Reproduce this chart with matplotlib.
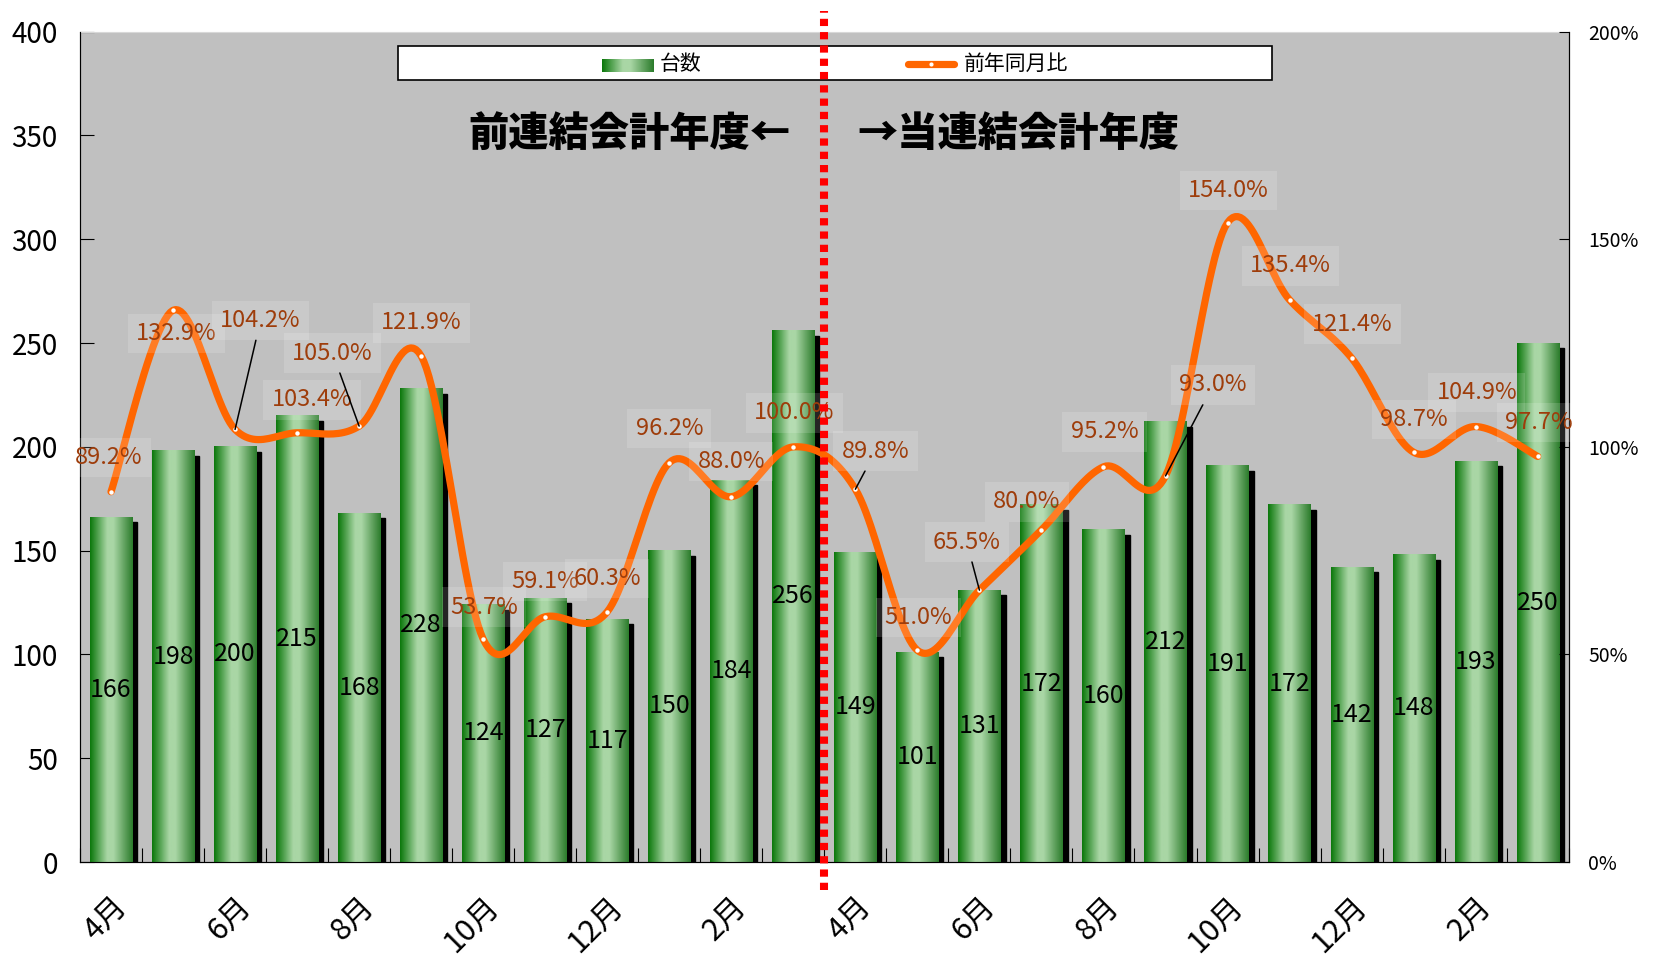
import numpy as np
import matplotlib.pyplot as plt
from matplotlib.colors import LinearSegmentedColormap
from matplotlib.patches import Rectangle
from matplotlib.lines import Line2D
from matplotlib.transforms import offset_copy
from matplotlib.ticker import FuncFormatter

plt.rcParams['font.family'] = ['Noto Sans CJK JP', 'DejaVu Sans']

# data
months = ['4月', '5月', '6月', '7月', '8月', '9月', '10月', '11月', '12月', '1月', '2月', '3月'] * 2
units = [166, 198, 200, 215, 168, 228, 124, 127, 117, 150, 184, 256,
         149, 101, 131, 172, 160, 212, 191, 172, 142, 148, 193, 250]
ratio = [89.2, 132.9, 104.2, 103.4, 105.0, 121.9, 53.7, 59.1, 60.3, 96.2, 88.0, 100.0,
         89.8, 51.0, 65.5, 80.0, 95.2, 93.0, 154.0, 135.4, 121.4, 98.7, 104.9, 97.7]
series_names = ['台数', '前年同月比']
period_labels = ['前連結会計年度←', '→当連結会計年度']

# label offsets in pixels (dx, dy) and which get a leader line
lbl_off = [(-2, 34), (3, -23), (24, 109), (14, 33), (-25, 73), (0, 33), (1, 32), (0, 35),
           (0, 33), (0, 34), (0, 35), (1, 34), (19, 38), (1, 33), (-12, 48), (-14, 28),
           (1, 35), (45, 91), (1, 32), (1, 34), (1, 34), (0, 33), (1, 34), (1, 34)]
leaders = {2, 4, 12, 14, 17}


def smooth(xs, ys, n=25):
    P = np.column_stack([xs, ys]).astype(float)
    P = np.vstack([P[0], P, P[-1]])
    out = []
    t = np.linspace(0, 1, n)[:, None]
    for i in range(1, len(P) - 2):
        p0, p1, p2, p3 = P[i - 1], P[i], P[i + 1], P[i + 2]
        c1 = p1 + (p2 - p0) / 6
        c2 = p2 - (p3 - p1) / 6
        out.append((1 - t) ** 3 * p1 + 3 * (1 - t) ** 2 * t * c1 + 3 * (1 - t) * t ** 2 * c2 + t ** 3 * p2)
    return np.vstack(out)


green = LinearSegmentedColormap.from_list(
    'bar', [(0, '#0c780c'), (0.4, '#a9d6a5'), (0.55, '#a9d6a5'), (1, '#2c7c2c')])
grad = np.linspace(0, 1, 64)[None, :]

fig = plt.figure(figsize=(16.53, 9.6), dpi=100)
ax = fig.add_axes([0.0484, 0.102, 0.9006, 0.865])
ax.set_facecolor('#c0c0c0')
ax2 = ax.twinx()

x = np.arange(len(units))
w = 0.68
shadow = offset_copy(ax.transData, fig=fig, x=5, y=-5, units='dots')
for i, v in enumerate(units):
    ax.add_patch(Rectangle((i - w / 2, 0), w, v, color='black', transform=shadow, zorder=2))
    ax.imshow(grad, cmap=green, extent=[i - w / 2, i + w / 2, 0, v], aspect='auto', zorder=3)
    ax.text(i, v / 2, str(v), ha='center', va='center', fontsize=18, color='black', zorder=4)

ax.set_xlim(-0.5, len(units) - 0.5)
ax.set_ylim(0, 400)
ax.set_yticks(np.arange(0, 401, 50))
ax.tick_params(axis='y', direction='in', length=10, labelsize=20, pad=16)
ax.set_xticks(np.arange(-0.5, len(units), 1))
ax.set_xticklabels([])
ax.set_xticks(x[::2], [months[i] for i in x[::2]], minor=True)
ax.tick_params(axis='x', which='major', direction='in', length=10)
ax.tick_params(axis='x', which='minor', length=0, labelsize=22, pad=21)
for lab in ax.get_xticklabels(minor=True):
    lab.set_rotation(45)
    lab.set_ha('right')
    lab.set_va('top')
    lab.set_rotation_mode('anchor')
ax.spines['top'].set_color('#d8d8d8')
ax.spines['left'].set_color('#404040')
ax.spines['bottom'].set_color('#404040')

# ratio line
curve = smooth(x, ratio)
ax2.plot(curve[:, 0], curve[:, 1], color='#ff6600', lw=5.2, solid_capstyle='round', zorder=3)
ax2.plot(x, ratio, 'o', color='white', ms=3.2, mew=0, zorder=4)
ax2.set_ylim(0, 200)
ax2.set_yticks([0, 50, 100, 150, 200])
ax2.yaxis.set_major_formatter(FuncFormatter(lambda v, p: f'{int(v)}%'))
ax2.tick_params(axis='y', direction='in', length=7, labelsize=14, pad=14)
ax2.spines['top'].set_visible(False)

for i, r in enumerate(ratio):
    dx, dy = lbl_off[i]
    ap = dict(arrowstyle='-', color='black', lw=1.1, shrinkA=0, shrinkB=0) if i in leaders else None
    ax2.annotate(f'{r:.1f}%', xy=(i, r), xytext=(dx * 1.06, dy), textcoords='offset pixels',
                 ha='center', va='center', fontsize=17, color='#9e3d0b', zorder=5,
                 annotation_clip=False, arrowprops=ap,
                 bbox=dict(boxstyle='square,pad=0.35', fc='white', ec='none', alpha=0.15))

# dotted divider between fiscal years
ax2.axvline(11.5, ymin=-0.034, ymax=1.025, color='#ff0000', lw=5.8,
            linestyle=(0, (0.9, 0.75)), dash_capstyle='butt', clip_on=False, zorder=8)

# period labels
ax2.text(0.4773, 0.877, period_labels[0], transform=ax2.transAxes, ha='right', va='center',
         fontsize=29, fontweight='heavy', color='black', zorder=6)
ax2.text(0.522, 0.877, period_labels[1], transform=ax2.transAxes, ha='left', va='center',
         fontsize=29, fontweight='heavy', color='black', zorder=6)

# legend drawn by hand to get the gradient swatch
ta = ax2.transAxes
ax2.add_patch(Rectangle((0.2135, 0.9417), 0.5872, 0.0406, transform=ta, fc='white',
                        ec='black', lw=1.2, zorder=7, clip_on=False))
ax2.imshow(grad, cmap=green, extent=[0.3504, 0.3851, 0.9518, 0.967], transform=ta,
           aspect='auto', zorder=7.5)
ax2.set_xlim(-0.5, len(units) - 0.5)
ax2.set_ylim(0, 200)
ax2.text(0.3894, 0.9607, series_names[0], transform=ta, ha='left', va='center', fontsize=15, zorder=8)
ax2.add_line(Line2D([0.5560, 0.5874], [0.9607, 0.9607], transform=ta, color='#ff6600', lw=5.2,
                    solid_capstyle='round', zorder=7.5))
ax2.add_line(Line2D([0.5716], [0.9607], transform=ta, marker='o', color='white', ms=3, mew=0, zorder=7.6))
ax2.text(0.5936, 0.9607, series_names[1], transform=ta, ha='left', va='center', fontsize=15, zorder=8)

fig.savefig('out.png', dpi=100)
